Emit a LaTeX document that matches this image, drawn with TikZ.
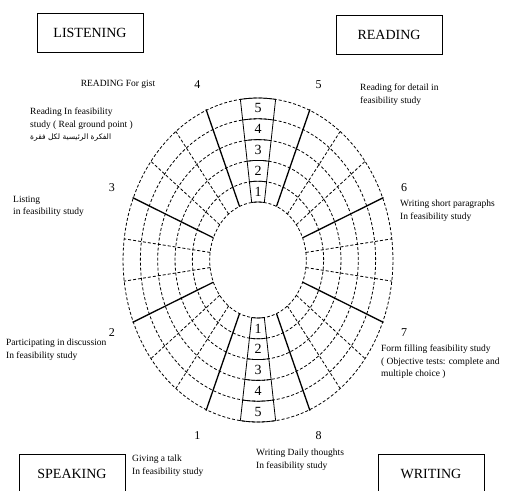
\documentclass[tikz,border=0pt]{standalone}
\usepackage{fontspec}
\setmainfont{Liberation Serif}
\newfontfamily\arabicfont[Script=Arabic]{DejaVu Sans}
\TeXXeTstate=1
\usetikzlibrary{positioning}

\tikzset{
  skillbox/.style={draw, line width=1pt, minimum width=106pt, minimum height=39pt, font=\fontsize{14}{16}\selectfont},
  note/.style={align=left, inner sep=0pt, anchor=north west, font=\fontsize{9.5}{12.5}\selectfont},
  ring/.style={dashed, dash pattern=on 3pt off 2pt, line width=0.8pt},
  divider/.style={dashed, dash pattern=on 3pt off 2pt, line width=0.8pt},
  spoke/.style={line width=1.3pt},
  column/.style={line width=0.8pt},
  cellnum/.style={inner sep=0pt, font=\fontsize{14}{14}\selectfont},
  sectornum/.style={inner sep=1pt, font=\fontsize{12}{12}\selectfont}
}

\begin{document}
\begin{tikzpicture}[x=1pt, y=1pt]
    \useasboundingbox (0,0) rectangle (508,490);
    \clip (0,0) rectangle (508,490);

    % Skill boxes
    \node[skillbox] (listening) at (90,457) {LISTENING};
    \node[skillbox] (reading) at (389,455) {READING};
    \node[skillbox] (speaking) at (72,16) {SPEAKING};
    \node[skillbox] (writing) at (431,16) {WRITING};

    % Wheel
    \begin{scope}[shift={(258,230)}, xscale=0.833]
        \coordinate (hub) at (0,0);
        % rings
        \foreach \k in {0,...,5} \draw[ring] (hub) circle ({58+20.8*\k});
        % cell dividers
        \foreach \a in {7.5,37.5,52.5,127.5,142.5,172.5,187.5,217.5,232.5,307.5,322.5,352.5}
            \draw[divider] (\a:58) -- (\a:162);
        % score columns
        \foreach \a in {82.5,97.5,262.5,277.5} \draw[column] (\a:58) -- (\a:162);
        \foreach \k in {0,...,5} {
            \draw[column] (82.5:{58+20.8*\k}) arc (82.5:97.5:{58+20.8*\k});
            \draw[column] (262.5:{58+20.8*\k}) arc (262.5:277.5:{58+20.8*\k});
        }
        \foreach \n in {1,...,5} {
            \node[cellnum] (top\n) at (90:{47.6+20.8*\n}) {\n};
            \node[cellnum] (bot\n) at (270:{47.6+20.8*\n}) {\n};
        }
        % spokes
        \foreach \a in {22.5,67.5,...,337.5} \draw[spoke] (\a:58) -- (\a:163);
        % sector numbers
        \foreach \n/\a in {1/247.5,2/202.5,3/157.5,4/112.5,5/67.5,6/22.5,7/-22.5,8/-67.5}
            \node[sectornum] (s\n) at (\a:190) {\n};
    \end{scope}

    % Activities
    \node[inner sep=0pt, font=\fontsize{9.5}{12.5}\selectfont] (gist) at (118,406) {READING For gist};
    \node[note] (detail) at (360,406) {Reading for detail in\\feasibility study};
    \node[note] (ground) at (30,382) {Reading  In feasibility\\study ( Real ground point )\\{\arabicfont\fontsize{7.5}{10}\selectfont\beginR الفكرة الرئيسية لكل فقرة\endR}};
    \node[note] (listing) at (13,294) {Listing\\ in feasibility study};
    \node[note] (short) at (400,290) {Writing short paragraphs\\In feasibility study};
    \node[note] (discuss) at (6,151) {Participating in discussion\\ In feasibility study};
    \node[note] (form) at (381,145) {Form filling feasibility study\\( Objective tests: complete and\\multiple choice )};
    \node[note] (talk) at (132,35) {Giving a talk\\ In feasibility study};
    \node[note] (daily) at (256,41) {Writing Daily thoughts\\ In feasibility study};

\end{tikzpicture}
\end{document}
